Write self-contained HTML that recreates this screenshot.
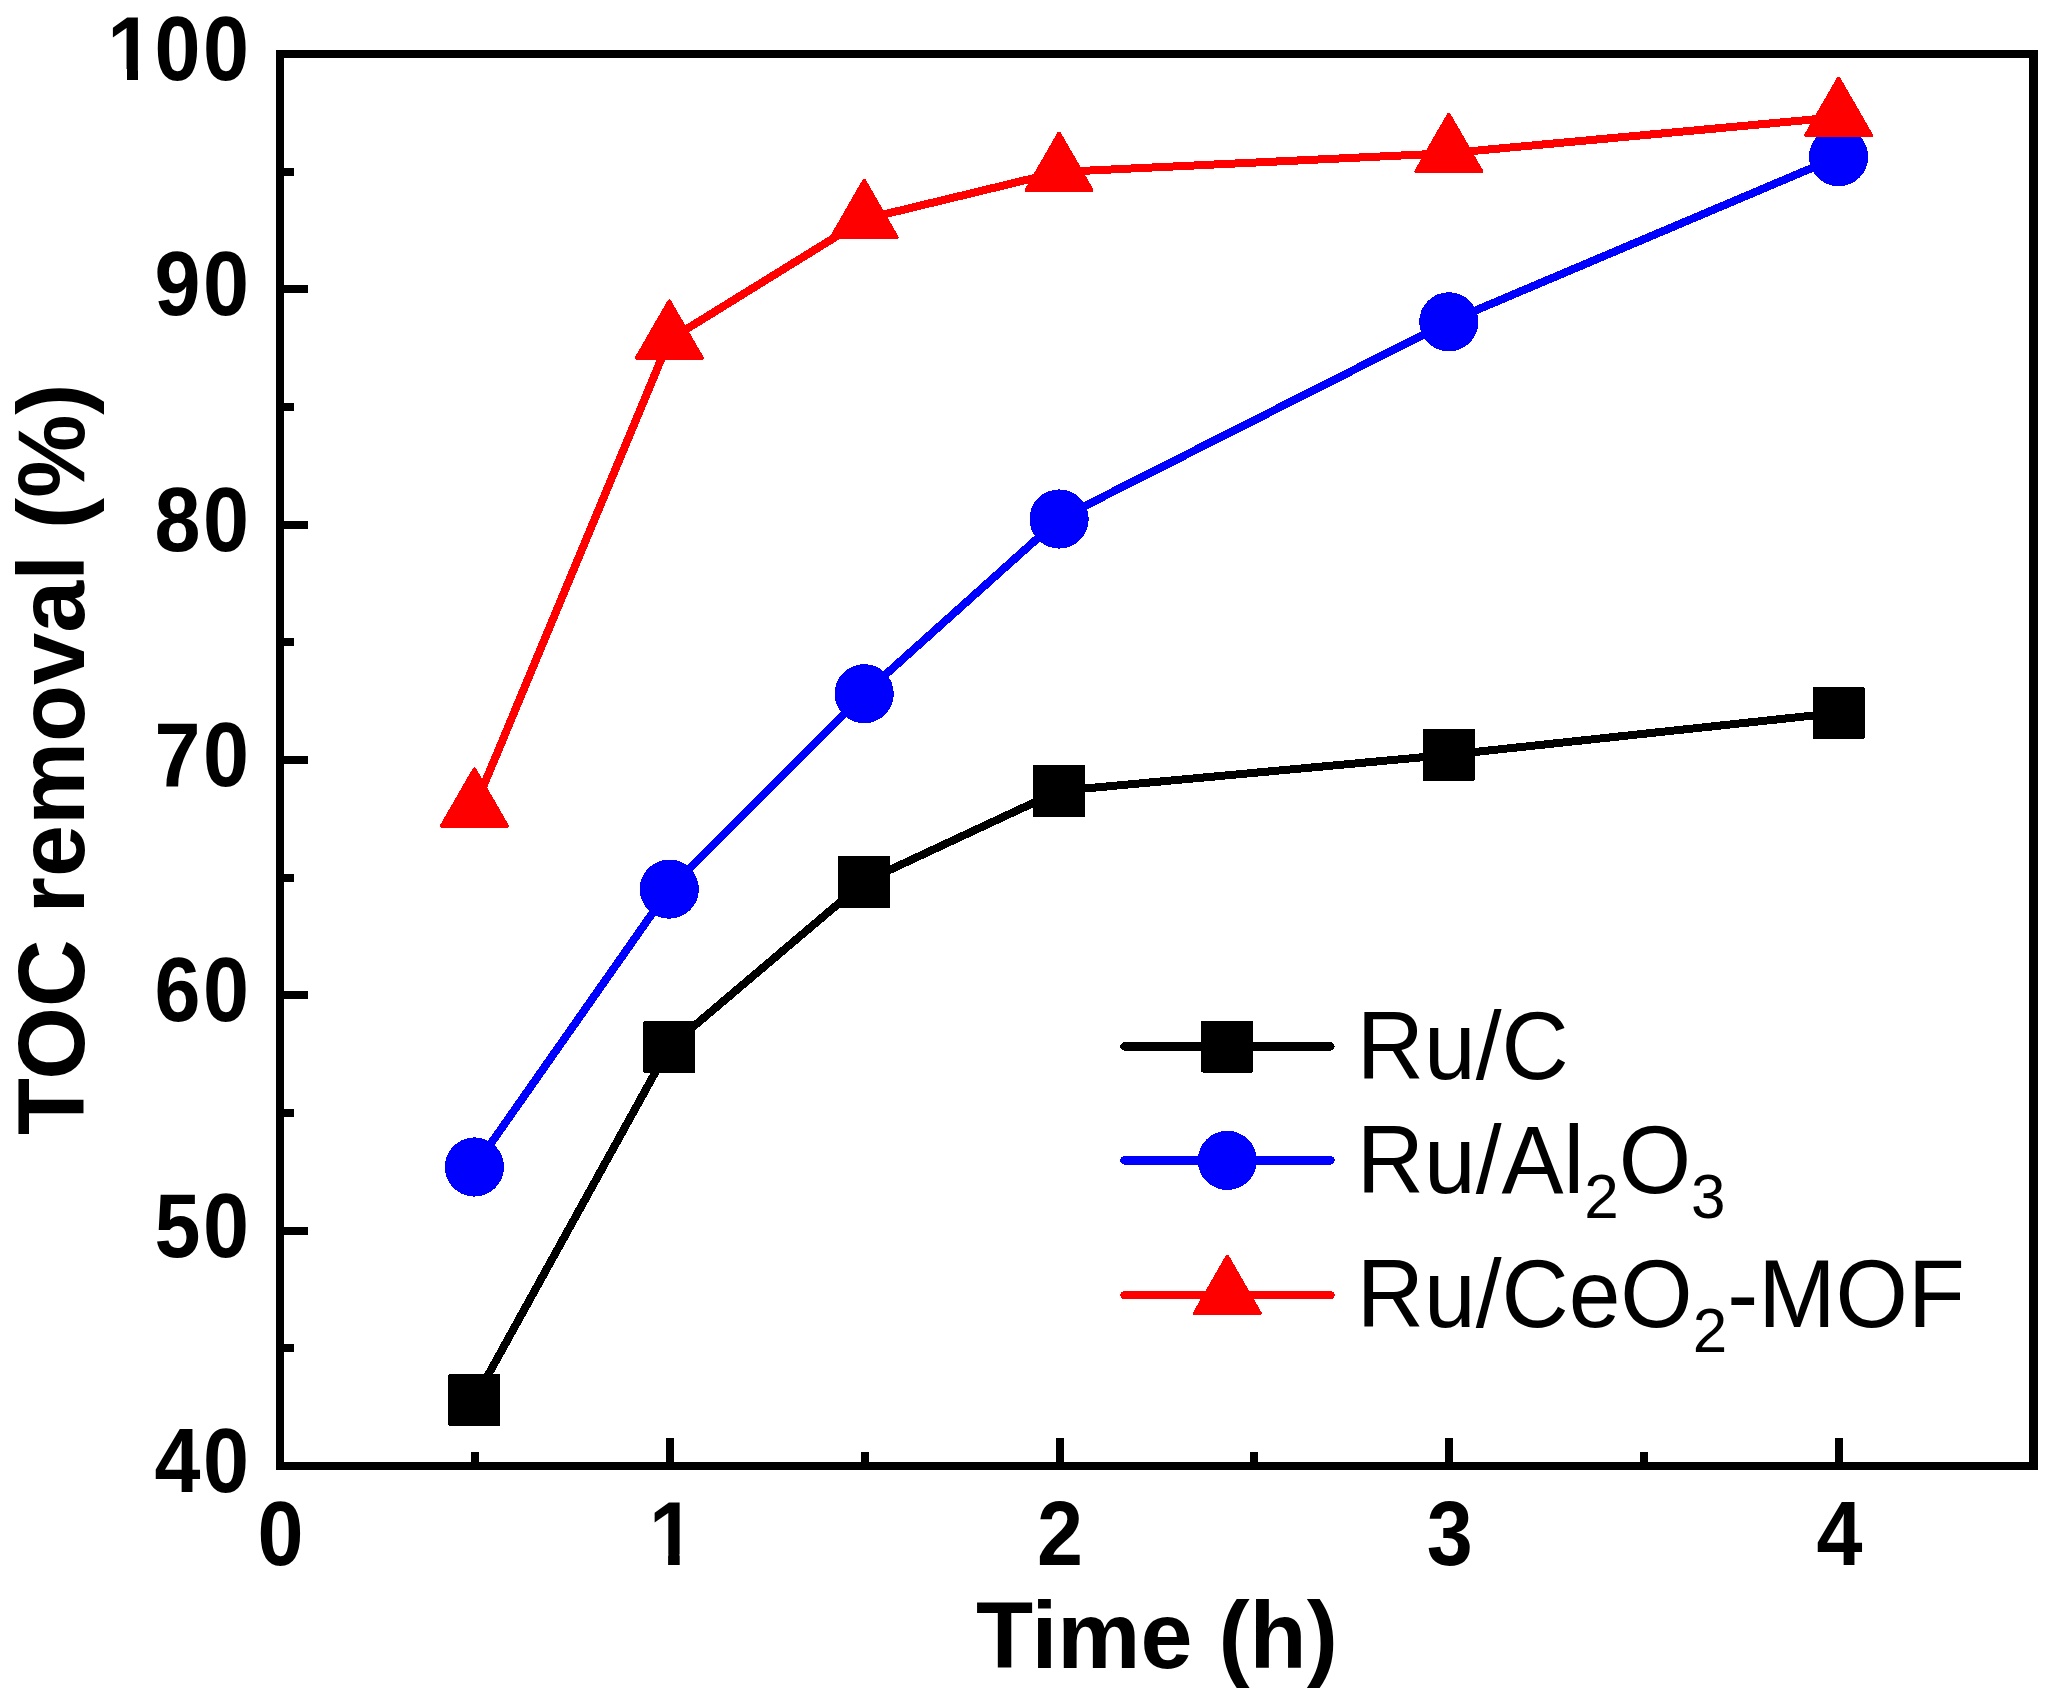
<!DOCTYPE html>
<html lang="en"><head><meta charset="utf-8"><title>TOC removal vs Time</title>
<style>
html,body{margin:0;padding:0;background:#fff;}
body{width:2057px;height:1703px;overflow:hidden;}
svg{display:block;}
text{font-family:"Liberation Sans",Arial,Helvetica,sans-serif;fill:#000;}
.b{font-weight:bold;}
</style></head><body>
<svg width="2057" height="1703" viewBox="0 0 2057 1703">
<rect x="0" y="0" width="2057" height="1703" fill="#fff"/>
<g shape-rendering="crispEdges" fill="#000">
<rect x="276" y="50" width="1762" height="8"/>
<rect x="276" y="1462" width="1762" height="8"/>
<rect x="276" y="50" width="8" height="1420"/>
<rect x="2029" y="50" width="9" height="1420"/>
<rect x="284" y="1344" width="10" height="8"/>
<rect x="284" y="1227" width="24" height="8"/>
<rect x="284" y="1109" width="10" height="8"/>
<rect x="284" y="991" width="24" height="8"/>
<rect x="284" y="874" width="10" height="8"/>
<rect x="284" y="756" width="24" height="8"/>
<rect x="284" y="638" width="10" height="8"/>
<rect x="284" y="521" width="24" height="8"/>
<rect x="284" y="403" width="10" height="8"/>
<rect x="284" y="285" width="24" height="8"/>
<rect x="284" y="168" width="10" height="8"/>
<rect x="471" y="1452" width="8" height="10"/>
<rect x="666" y="1438" width="8" height="24"/>
<rect x="861" y="1452" width="8" height="10"/>
<rect x="1056" y="1438" width="8" height="24"/>
<rect x="1250" y="1452" width="8" height="10"/>
<rect x="1445" y="1438" width="8" height="24"/>
<rect x="1640" y="1452" width="8" height="10"/>
<rect x="1835" y="1438" width="8" height="24"/>
</g>
<text class="b" font-size="88" letter-spacing="2.6" text-anchor="end" transform="translate(251.5,1492.0) scale(0.940,1.022)">40</text>
<text class="b" font-size="88" letter-spacing="2.6" text-anchor="end" transform="translate(251.5,1256.7) scale(0.940,1.022)">50</text>
<text class="b" font-size="88" letter-spacing="2.6" text-anchor="end" transform="translate(251.5,1021.3) scale(0.940,1.022)">60</text>
<text class="b" font-size="88" letter-spacing="2.6" text-anchor="end" transform="translate(251.5,786.0) scale(0.940,1.022)">70</text>
<text class="b" font-size="88" letter-spacing="2.6" text-anchor="end" transform="translate(251.5,550.7) scale(0.940,1.022)">80</text>
<text class="b" font-size="88" letter-spacing="2.6" text-anchor="end" transform="translate(251.5,315.3) scale(0.940,1.022)">90</text>
<text class="b" font-size="88" letter-spacing="2.6" text-anchor="end" transform="translate(250.5,80.0) scale(0.940,1.022)"><tspan dx="1.06">1</tspan><tspan dx="-1.06">00</tspan></text>
<text class="b" font-size="88" text-anchor="middle" transform="translate(280.5,1565.0) scale(0.940,1.022)">0</text>
<text class="b" font-size="88" text-anchor="middle" transform="translate(672.0,1565.0) scale(0.940,1.022)">1</text>
<text class="b" font-size="88" text-anchor="middle" transform="translate(1060.1,1565.0) scale(0.940,1.022)">2</text>
<text class="b" font-size="88" text-anchor="middle" transform="translate(1449.8,1565.0) scale(0.940,1.022)">3</text>
<text class="b" font-size="88" text-anchor="middle" transform="translate(1839.6,1565.0) scale(0.940,1.022)">4</text>
<g fill="#fff"><rect x="104" y="69" width="23" height="14"/><rect x="138" y="69" width="17" height="14"/>
<rect x="644" y="1554" width="24.1" height="14"/><rect x="679.7" y="1554" width="22" height="14"/></g>
<text class="b" font-size="93.5" text-anchor="middle" transform="translate(1156.9,1667.8) scale(1,1.020)">Time (h)</text>
<text class="b" font-size="93.5" text-anchor="middle" transform="translate(84.1,759.3) rotate(-90) scale(1,1.020)">TOC removal (%)</text>
<g shape-rendering="crispEdges">
<polyline points="474.4,1399.8 669.3,1047.0 864.2,881.8 1059.1,790.9 1448.8,754.8 1838.6,712.8" fill="none" stroke="#000" stroke-width="8" stroke-linejoin="round" stroke-linecap="round"/>
<rect x="448.4" y="1373.8" width="52" height="52" rx="1.5" fill="#000"/>
<rect x="643.3" y="1021.0" width="52" height="52" rx="1.5" fill="#000"/>
<rect x="838.2" y="855.8" width="52" height="52" rx="1.5" fill="#000"/>
<rect x="1033.1" y="764.9" width="52" height="52" rx="1.5" fill="#000"/>
<rect x="1422.8" y="728.8" width="52" height="52" rx="1.5" fill="#000"/>
<rect x="1812.6" y="686.8" width="52" height="52" rx="1.5" fill="#000"/>
<polyline points="474.4,1167.0 669.3,889.1 864.2,693.7 1059.1,519.0 1448.8,321.8 1838.6,156.7" fill="none" stroke="#0000ff" stroke-width="8" stroke-linejoin="round" stroke-linecap="round"/>
<circle cx="474.4" cy="1167.0" r="29.6" fill="#0000ff"/>
<circle cx="669.3" cy="889.1" r="29.6" fill="#0000ff"/>
<circle cx="864.2" cy="693.7" r="29.6" fill="#0000ff"/>
<circle cx="1059.1" cy="519.0" r="29.6" fill="#0000ff"/>
<circle cx="1448.8" cy="321.8" r="29.6" fill="#0000ff"/>
<circle cx="1838.6" cy="156.7" r="29.6" fill="#0000ff"/>
<polyline points="474.4,807.8 669.3,339.8 864.2,219.2 1059.1,172.0 1448.8,153.2 1838.6,117.1" fill="none" stroke="#ff0000" stroke-width="8" stroke-linejoin="round" stroke-linecap="round"/>
<polygon points="474.4,769.5 441.9,826.0 506.9,826.0" fill="#ff0000" stroke="#ff0000" stroke-width="4" stroke-linejoin="round"/>
<polygon points="669.3,301.5 636.8,358.0 701.8,358.0" fill="#ff0000" stroke="#ff0000" stroke-width="4" stroke-linejoin="round"/>
<polygon points="864.2,180.9 831.7,237.4 896.7,237.4" fill="#ff0000" stroke="#ff0000" stroke-width="4" stroke-linejoin="round"/>
<polygon points="1059.1,133.7 1026.6,190.2 1091.6,190.2" fill="#ff0000" stroke="#ff0000" stroke-width="4" stroke-linejoin="round"/>
<polygon points="1448.8,114.9 1416.3,171.4 1481.3,171.4" fill="#ff0000" stroke="#ff0000" stroke-width="4" stroke-linejoin="round"/>
<polygon points="1838.6,78.8 1806.1,135.3 1871.1,135.3" fill="#ff0000" stroke="#ff0000" stroke-width="4" stroke-linejoin="round"/>
<line x1="1124.5" y1="1046.5" x2="1330.5" y2="1046.5" stroke="#000" stroke-width="8.4" stroke-linecap="round"/>
<rect x="1201.3" y="1020.5" width="52" height="52" rx="1.5" fill="#000"/>
<line x1="1124.5" y1="1160.4" x2="1330.5" y2="1160.4" stroke="#0000ff" stroke-width="8.4" stroke-linecap="round"/>
<circle cx="1227.3" cy="1160.4" r="29.6" fill="#0000ff"/>
<line x1="1124.5" y1="1295.2" x2="1330.5" y2="1295.2" stroke="#ff0000" stroke-width="8.4" stroke-linecap="round"/>
<polygon points="1227.3,1256.9 1194.8,1313.4 1259.8,1313.4" fill="#ff0000" stroke="#ff0000" stroke-width="4" stroke-linejoin="round"/>
</g>
<text font-size="93" transform="translate(1356.8,1078.7) scale(1,1.030)">Ru/C</text>
<text font-size="93" transform="translate(1356.8,1192.7) scale(1,1.030)">Ru/Al<tspan font-size="62" dy="24.1">2</tspan><tspan dy="-24.1">O</tspan><tspan font-size="62" dy="24.1">3</tspan></text>
<text font-size="93" transform="translate(1356.8,1327.1) scale(1,1.030)">Ru/CeO<tspan font-size="62" dy="24.1">2</tspan><tspan dy="-24.1">-MOF</tspan></text>
</svg></body></html>
